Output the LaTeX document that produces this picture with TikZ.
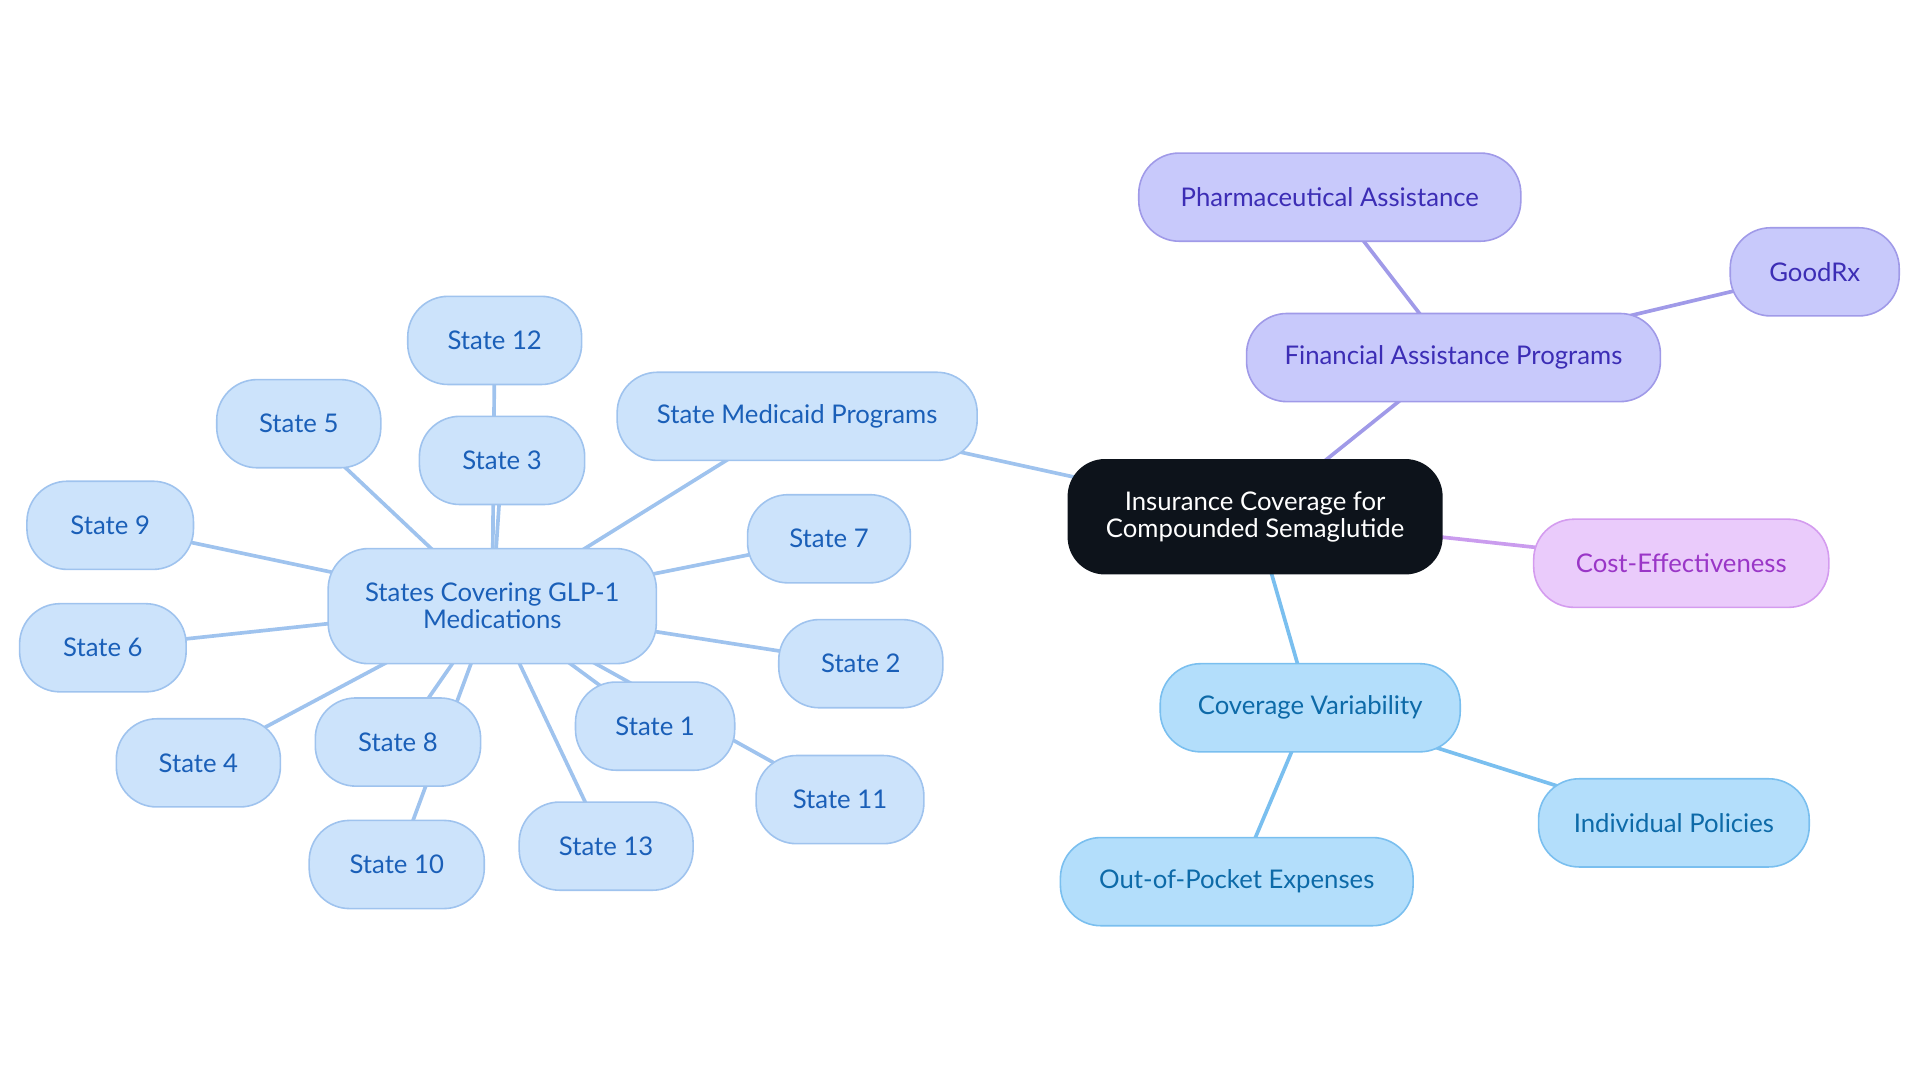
\documentclass[tikz,border=0pt]{standalone}
\usepackage{fontspec}
\setmainfont{Lato}
\usetikzlibrary{backgrounds}
\definecolor{stateFill}{HTML}{CCE3FB}
\definecolor{stateLine}{HTML}{9FC3EE}
\definecolor{stateText}{HTML}{1A5FB8}
\definecolor{skyFill}{HTML}{B3DEFB}
\definecolor{skyLine}{HTML}{7ABFEF}
\definecolor{skyText}{HTML}{0D6AA8}
\definecolor{lilacFill}{HTML}{C8C9FB}
\definecolor{lilacLine}{HTML}{A09AE8}
\definecolor{lilacText}{HTML}{3C2DB5}
\definecolor{pinkFill}{HTML}{EACBFB}
\definecolor{pinkLine}{HTML}{D49CEF}
\definecolor{pinkText}{HTML}{9A36C7}
\definecolor{rootFill}{HTML}{0D131B}
\begin{document}
\begin{tikzpicture}[x=1pt,y=-1pt,
	box/.style={draw, line width=1.3pt, rounded corners=33pt, minimum height=72pt, inner xsep=6pt, align=center, font=\fontsize{21}{22}\selectfont},
	state/.style={box, fill=stateFill, draw=stateLine, text=stateText},
	sky/.style={box, fill=skyFill, draw=skyLine, text=skyText},
	lilac/.style={box, fill=lilacFill, draw=lilacLine, text=lilacText},
	pink/.style={box, fill=pinkFill, draw=pinkLine, text=pinkText},
	rootbox/.style={box, fill=rootFill, draw=rootFill, text=white, minimum height=93pt, rounded corners=30pt},
	link/.style={line width=3pt}]
	\useasboundingbox (0,0) rectangle (1568,884);
	% centre and first branches
	\node[rootbox, minimum width=305pt] (root) at (1025,422) {Insurance Coverage for\\Compounded Semaglutide};
	\node[lilac, minimum width=338pt] (finance) at (1187,292) {Financial Assistance Programs};
	\node[lilac, minimum width=312pt] (pharma) at (1086,161) {Pharmaceutical Assistance};
	\node[lilac, minimum width=138pt] (goodrx) at (1482,222) {GoodRx};
	\node[pink, minimum width=241pt] (cost) at (1373,460) {Cost-Effectiveness};
	\node[sky, minimum width=245pt] (variab) at (1070,578) {Coverage Variability};
	\node[sky, minimum width=221pt] (policy) at (1367,672) {Individual Policies};
	\node[sky, minimum width=288pt] (pocket) at (1010,720) {Out-of-Pocket Expenses};
	\node[state, minimum width=294pt] (medicaid) at (651,340) {State Medicaid Programs};
	\node[state, minimum width=268pt, minimum height=94pt] (glp) at (402,495) {States Covering GLP-1\\Medications};
	% states
	\node[state, minimum width=130pt] (s1) at (535,593) {State 1};
	\node[state, minimum width=134pt] (s2) at (703,542) {State 2};
	\node[state, minimum width=135pt] (s3) at (410,376) {State 3};
	\node[state, minimum width=134pt] (s4) at (162,623) {State 4};
	\node[state, minimum width=134pt] (s5) at (244,346) {State 5};
	\node[state, minimum width=136pt] (s6) at (84,529) {State 6};
	\node[state, minimum width=133pt] (s7) at (677,440) {State 7};
	\node[state, minimum width=135pt] (s8) at (325,606) {State 8};
	\node[state, minimum width=136pt] (s9) at (90,429) {State 9};
	\node[state, minimum width=143pt] (s10) at (324,706) {State 10};
	\node[state, minimum width=137pt] (s11) at (686,653) {State 11};
	\node[state, minimum width=142pt] (s12) at (404,278) {State 12};
	\node[state, minimum width=142pt] (s13) at (495,691) {State 13};
	% connectors behind the boxes
	\begin{scope}[on background layer]
		\draw[link, stateLine] (root.center) -- (medicaid.center);
		\draw[link, lilacLine] (root.center) -- (finance.center);
		\draw[link, pinkLine!80!lilacLine] (root.center) -- (cost.center);
		\draw[link, skyLine] (root.center) -- (variab.center);
		\draw[link, lilacLine] (finance.center) -- (pharma.center);
		\draw[link, lilacLine] (finance.center) -- (goodrx.center);
		\draw[link, skyLine] (variab.center) -- (policy.center);
		\draw[link, skyLine] (variab.center) -- (pocket.center);
		\draw[link, stateLine] (medicaid.center) -- (glp.center);
		\foreach \s in {s1,s2,s3,s4,s5,s6,s7,s8,s9,s10,s11,s12,s13}
			\draw[link, stateLine] (glp.center) -- (\s.center);
	\end{scope}
\end{tikzpicture}
\end{document}
